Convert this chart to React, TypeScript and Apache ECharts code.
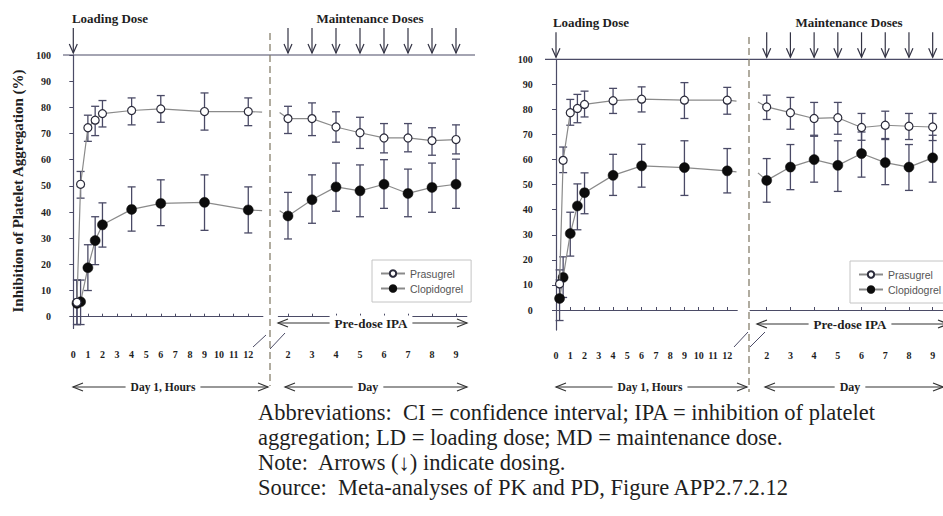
import React, { useEffect, useRef } from "react";
import * as echarts from "echarts";

// ---------- data ----------
const HOURS = [0.25, 0.5, 1, 1.5, 2, 4, 6, 9, 12];
const DAYS = [2, 3, 4, 5, 6, 7, 8, 9];
const HOUR_TICKS = [0, 1, 2, 3, 4, 5, 6, 7, 8, 9, 10, 11, 12];
const DAY_TICKS = [2, 3, 4, 5, 6, 7, 8, 9];
const Y_TICKS = [0, 10, 20, 30, 40, 50, 60, 70, 80, 90, 100];
const LOADING_DOSE_HOURS = [0];
const MAINTENANCE_DOSE_DAYS = [2, 3, 4, 5, 6, 7, 8, 9];

// Left panel
const L_PRAS_H = [5.5, 50.6, 72.2, 75.1, 77.6, 78.8, 79.4, 78.4, 78.4];
const L_PRAS_H_LO = [-3, 45.3, 67, 69.2, 72.5, 73.3, 74.3, 71.3, 73];
const L_PRAS_H_HI = [14, 55.5, 77, 80.4, 82.6, 83.6, 84.5, 85.5, 83.6];
const L_CLOP_H = [5.1, 5.7, 18.7, 29.1, 35.1, 41, 43.3, 43.7, 40.8];
const L_CLOP_H_LO = [-3, -3, 10, 19.9, 26.6, 32.7, 34.8, 33, 32];
const L_CLOP_H_HI = [14, 14, 27.5, 38.2, 43.5, 49.6, 52.3, 54.2, 49.6];
const L_PRAS_D = [75.7, 75.7, 72.5, 70.3, 68.3, 68.3, 67.3, 67.7];
const L_PRAS_D_LO = [70, 69.2, 66.7, 64.3, 62.6, 63, 61.7, 62.2];
const L_PRAS_D_HI = [80.4, 81.7, 78.3, 76.2, 73.8, 73.8, 72.2, 73.3];
const L_CLOP_D = [38.5, 44.7, 49.6, 48.1, 50.6, 47.1, 49.4, 50.6];
const L_CLOP_D_LO = [29.7, 35.7, 40.3, 38.2, 41.4, 38.2, 39.9, 41.4];
const L_CLOP_D_HI = [47.5, 54.2, 58.7, 58, 60, 56.4, 58.7, 60.2];
// line ends at the axis break: [x, prasugrel, clopidogrel]
const L_TAIL_H = [12.95, 78.2, 40.5];
const L_HEAD_D = [1.65, 78, 40.5];

// Right panel
const R_PRAS_H = [10.4, 59.7, 78.7, 80.4, 82, 83.5, 84.1, 83.7, 83.7];
const R_PRAS_H_LO = [5, 54.8, 73.7, 74.7, 77, 78.4, 79, 76.4, 78.1];
const R_PRAS_H_HI = [16, 65, 84, 86, 87.3, 88.4, 89, 90.7, 88.8];
const R_CLOP_H = [4.6, 13, 30.5, 41.5, 46.8, 53.7, 57.5, 56.8, 55.5];
const R_CLOP_H_LO = [-4.2, 5, 21.5, 32, 38.4, 45.7, 49, 45.7, 46.7];
const R_CLOP_H_HI = [12, 21.2, 39, 50.3, 54.7, 62.1, 66.1, 67.5, 64.4];
const R_PRAS_D = [81, 78.7, 76.4, 76.7, 72.8, 73.7, 73.3, 73];
const R_PRAS_D_LO = [76, 72.1, 69.7, 70.1, 67.7, 68.4, 68, 67.6];
const R_PRAS_D_HI = [85.7, 84.8, 82.8, 82.8, 78.4, 79.3, 78.4, 78.4];
const R_CLOP_D = [51.7, 57, 60, 57.7, 62.4, 58.8, 57, 60.7];
const R_CLOP_D_LO = [43, 48, 51, 47.3, 53, 50, 47.7, 51];
const R_CLOP_D_HI = [60.4, 66, 69.3, 67.5, 71, 68, 66, 69.7];
const R_TAIL_H = [12.65, 83.3, 55.1];
const R_HEAD_D = [1.63, 83, 54.7];

const NOTES = [
  "Abbreviations:  CI = confidence interval; IPA = inhibition of platelet",
  "aggregation; LD = loading dose; MD = maintenance dose.",
  "Note:  Arrows (\u2193) indicate dosing.",
  "Source:  Meta-analyses of PK and PD, Figure APP2.7.2.12",
];

// ---------- style / layout ----------
const SERIF = "'Liberation Serif', 'Times New Roman', serif";
const SANS = "'Liberation Sans', Arial, sans-serif";
const AXIS = "#4b4b66";
const TEXT = "#1e1e1e";
const LINE = "#8a8a8a";

type Panel = {
  yAxisX: number; y0: number; y100: number; yMin: number; xAxisY: number;
  h0: number; pxH: number; hMax: number;
  d2: number; pxD: number; dMin: number; dMax: number;
};

const PANELS: Panel[] = [
  { yAxisX: 60, y0: 316.7, y100: 55, yMin: -4.5, xAxisY: 339,
    h0: 73.3, pxH: 14.58, hMax: 13, d2: 288, pxD: 24, dMin: 1.6, dMax: 9.45 },
  { yAxisX: 541.7, y0: 310, y100: 59.3, yMin: -8, xAxisY: 340,
    h0: 556, pxH: 14.27, hMax: 12.7, d2: 766.7, pxD: 23.71, dMin: 1.3, dMax: 9.43 },
];

function errRender(params: any, api: any) {
  const x = api.value(0);
  const lo = api.coord([x, api.value(1)]);
  const hi = api.coord([x, api.value(2)]);
  const w = 4;
  const st = { stroke: "#4a4a66", lineWidth: 1.3 };
  return {
    type: "group",
    children: [
      { type: "line", shape: { x1: lo[0], y1: lo[1], x2: hi[0], y2: hi[1] }, style: st },
      { type: "line", shape: { x1: lo[0] - w, y1: lo[1], x2: lo[0] + w, y2: lo[1] }, style: st },
      { type: "line", shape: { x1: hi[0] - w, y1: hi[1], x2: hi[0] + w, y2: hi[1] }, style: st },
    ],
  };
}

function arrowRender(params: any, api: any) {
  const p = api.coord([api.value(0), 100]);
  const x = p[0];
  const top = p[1] - 27;
  const bot = p[1] - 2;
  const st = { stroke: "#333344", lineWidth: 1.2, fill: "none" };
  return {
    type: "group",
    children: [
      { type: "line", shape: { x1: x, y1: top, x2: x, y2: bot }, style: st },
      { type: "polyline", shape: { points: [[x - 4, bot - 9], [x, bot], [x + 4, bot - 9]] }, style: st },
    ],
  };
}

function hArrow(x1: number, x2: number, y: number, label: string, cx: number, fs: number) {
  const st = { stroke: "#333", lineWidth: 1.2, fill: "none" };
  return [
    { type: "line", shape: { x1, y1: y, x2, y2: y }, style: st, z: 10 },
    { type: "polyline", shape: { points: [[x1 + 10, y - 4], [x1, y], [x1 + 10, y + 4]] }, style: st, z: 10 },
    { type: "polyline", shape: { points: [[x2 - 10, y - 4], [x2, y], [x2 - 10, y + 4]] }, style: st, z: 10 },
    {
      type: "text", x: cx, y, z: 11,
      style: {
        text: label, fontFamily: SERIF, fontWeight: "bold", fontSize: fs, fill: TEXT,
        align: "center", verticalAlign: "middle", backgroundColor: "#fff", padding: [1, 5],
      },
    },
  ];
}

function textAt(x: number, y: number, text: string, fs: number, extra: any = {}) {
  return {
    type: "text", x, y, z: 11,
    style: { text, fontFamily: SERIF, fontWeight: "bold", fontSize: fs, fill: TEXT, align: "center", verticalAlign: "middle", ...extra },
  };
}

export default function App() {
  const ref = useRef<HTMLDivElement>(null);

  useEffect(() => {
    if (!ref.current) return;
    const chart = echarts.init(ref.current, null, { renderer: "svg" });

    const grids: any[] = [];
    const xAxes: any[] = [];
    const yAxes: any[] = [];
    const series: any[] = [];

    const panelData = [
      {
        ph: L_PRAS_H, phLo: L_PRAS_H_LO, phHi: L_PRAS_H_HI,
        ch: L_CLOP_H, chLo: L_CLOP_H_LO, chHi: L_CLOP_H_HI,
        pd: L_PRAS_D, pdLo: L_PRAS_D_LO, pdHi: L_PRAS_D_HI,
        cd: L_CLOP_D, cdLo: L_CLOP_D_LO, cdHi: L_CLOP_D_HI,
        tail: L_TAIL_H, head: L_HEAD_D,
      },
      {
        ph: R_PRAS_H, phLo: R_PRAS_H_LO, phHi: R_PRAS_H_HI,
        ch: R_CLOP_H, chLo: R_CLOP_H_LO, chHi: R_CLOP_H_HI,
        pd: R_PRAS_D, pdLo: R_PRAS_D_LO, pdHi: R_PRAS_D_HI,
        cd: R_CLOP_D, cdLo: R_CLOP_D_LO, cdHi: R_CLOP_D_HI,
        tail: R_TAIL_H, head: R_HEAD_D,
      },
    ];

    const prasStyle = {
      symbol: "circle", symbolSize: 8,
      itemStyle: { color: "#ffffff", borderColor: "#2a2a3a", borderWidth: 1.2 },
      lineStyle: { color: LINE, width: 1.2 },
    };
    const clopStyle = {
      symbol: "circle", symbolSize: 10,
      itemStyle: { color: "#0c0c0c", borderColor: "#0c0c0c", borderWidth: 0.5 },
      lineStyle: { color: LINE, width: 1.2 },
    };

    PANELS.forEach((P, pi) => {
      const pxU = (P.y0 - P.y100) / 100;
      const top = P.y100;
      const height = (100 - P.yMin) * pxU;
      const gBottom = top + height;
      const xOff = P.xAxisY - gBottom;
      const D = panelData[pi];

      const gH = grids.length;
      grids.push({ left: P.h0, top, width: P.hMax * P.pxH, height, outerBoundsMode: "none", containLabel: false });
      const gD = grids.length;
      grids.push({
        left: P.d2 - (2 - P.dMin) * P.pxD, top, width: (P.dMax - P.dMin) * P.pxD, height,
        outerBoundsMode: "none", containLabel: false,
      });

      const xCommon = {
        type: "value",
        offset: xOff,
        splitLine: { show: false },
        axisLine: { show: true, lineStyle: { color: AXIS, width: 1.2 } },
        axisTick: { show: true, inside: true, length: 3, lineStyle: { color: AXIS } },
        axisLabel: {
          margin: 10, fontFamily: SERIF, fontWeight: "bold", fontSize: 10, color: TEXT,
        },
      };
      xAxes.push({
        ...xCommon, gridIndex: gH, min: 0, max: P.hMax,
        axisTick: { ...xCommon.axisTick, customValues: HOUR_TICKS },
        axisLabel: { ...xCommon.axisLabel, customValues: HOUR_TICKS },
      });
      xAxes.push({
        ...xCommon, gridIndex: gD, min: P.dMin, max: P.dMax,
        axisTick: { ...xCommon.axisTick, customValues: DAY_TICKS },
        axisLabel: { ...xCommon.axisLabel, customValues: DAY_TICKS },
      });

      yAxes.push({
        type: "value", gridIndex: gH, min: P.yMin, max: 100,
        offset: P.h0 - P.yAxisX,
        splitLine: { show: false },
        axisLine: { show: true, lineStyle: { color: AXIS, width: 1.2 } },
        axisTick: { show: true, length: 4, customValues: Y_TICKS, lineStyle: { color: AXIS } },
        axisLabel: {
          customValues: Y_TICKS, margin: 9, fontFamily: SERIF, fontWeight: "bold", fontSize: 10, color: TEXT,
        },
      });
      yAxes.push({ type: "value", gridIndex: gD, min: P.yMin, max: 100, show: false });

      const xiH = xAxes.length - 2, xiD = xAxes.length - 1;
      const yiH = yAxes.length - 2, yiD = yAxes.length - 1;

      const errData = (xs: number[], lo: number[], hi: number[]) => xs.map((x, i) => [x, lo[i], hi[i]]);
      const errSeries = (xi: number, yi: number, data: any[]) => ({
        type: "custom", xAxisIndex: xi, yAxisIndex: yi, renderItem: errRender,
        encode: { x: 0, y: [1, 2] }, data, clip: false, z: 1, silent: true,
      });
      series.push(errSeries(xiH, yiH, errData(HOURS, D.phLo, D.phHi)));
      series.push(errSeries(xiH, yiH, errData(HOURS, D.chLo, D.chHi)));
      series.push(errSeries(xiD, yiD, errData(DAYS, D.pdLo, D.pdHi)));
      series.push(errSeries(xiD, yiD, errData(DAYS, D.cdLo, D.cdHi)));

      const hoursLine = (vals: number[], tailV: number) => [
        ...HOURS.map((h, i) => [h, vals[i]]),
        { value: [D.tail[0], tailV], symbol: "none" },
      ];
      const daysLine = (vals: number[], headV: number) => [
        { value: [D.head[0], headV], symbol: "none" },
        ...DAYS.map((d, i) => [d, vals[i]]),
      ];

      series.push({ name: "Clopidogrel", type: "line", xAxisIndex: xiH, yAxisIndex: yiH, data: hoursLine(D.ch, D.tail[2]), z: 3, clip: false, ...clopStyle });
      series.push({ name: "Prasugrel", type: "line", xAxisIndex: xiH, yAxisIndex: yiH, data: hoursLine(D.ph, D.tail[1]), z: 4, clip: false, ...prasStyle });
      series.push({ name: "Clopidogrel", type: "line", xAxisIndex: xiD, yAxisIndex: yiD, data: daysLine(D.cd, D.head[2]), z: 3, clip: false, ...clopStyle });
      series.push({ name: "Prasugrel", type: "line", xAxisIndex: xiD, yAxisIndex: yiD, data: daysLine(D.pd, D.head[1]), z: 4, clip: false, ...prasStyle });

      series.push({
        type: "custom", xAxisIndex: xiH, yAxisIndex: yiH, renderItem: arrowRender,
        encode: { x: 0 }, data: LOADING_DOSE_HOURS.map((h) => [h]), clip: false, silent: true, z: 5,
      });
      series.push({
        type: "custom", xAxisIndex: xiD, yAxisIndex: yiD, renderItem: arrowRender,
        encode: { x: 0 }, data: MAINTENANCE_DOSE_DAYS.map((d) => [d]), clip: false, silent: true, z: 5,
      });
    });

    const dash = { stroke: "#7c7560", lineWidth: 1.2, lineDash: [7, 4] };
    const solid = { stroke: AXIS, lineWidth: 1.2 };
    const slash = { stroke: "#4b4b66", lineWidth: 1 };

    const graphic: any[] = [
      { type: "line", shape: { x1: 63, y1: 55, x2: 475, y2: 55 }, style: solid },
      { type: "line", shape: { x1: 545, y1: 59.3, x2: 943, y2: 59.3 }, style: solid },
      { type: "line", shape: { x1: 270, y1: 33, x2: 270, y2: 386 }, style: dash },
      { type: "line", shape: { x1: 749, y1: 37, x2: 749, y2: 392 }, style: dash },
      { type: "line", shape: { x1: 253, y1: 347, x2: 266, y2: 335 }, style: slash },
      { type: "line", shape: { x1: 270, y1: 349, x2: 285, y2: 333 }, style: slash },
      { type: "line", shape: { x1: 734, y1: 347, x2: 748, y2: 332 }, style: slash },
      { type: "line", shape: { x1: 750, y1: 347, x2: 765, y2: 332 }, style: slash },
      textAt(110, 18, "Loading Dose", 13),
      textAt(370, 18, "Maintenance Doses", 13),
      textAt(591, 22.7, "Loading Dose", 13),
      textAt(849, 22.7, "Maintenance Doses", 13),
      {
        type: "text", x: 18, y: 191, rotation: Math.PI / 2, z: 11,
        style: {
          text: "Inhibition of Platelet Aggregation (%)", fontFamily: SERIF, fontWeight: "bold",
          fontSize: 15, fill: TEXT, align: "center", verticalAlign: "middle",
        },
      },
      ...hArrow(278, 467, 323, "Pre-dose IPA", 371, 13),
      ...hArrow(757, 948, 324, "Pre-dose IPA", 850, 13),
      ...hArrow(73, 268, 387, "Day 1, Hours", 163, 11.5),
      ...hArrow(285, 467, 387, "Day", 368, 12),
      ...hArrow(556, 747, 387, "Day 1, Hours", 650, 11.5),
      ...hArrow(765, 943, 387, "Day", 850, 12),
      ...NOTES.map((t, i) => ({
        type: "text", x: 258, y: 412 + i * 25.3, z: 11,
        style: { text: t, fontFamily: SERIF, fontSize: 22.5, fill: TEXT, align: "left", verticalAlign: "middle" },
      })),
    ];

    const legendCommon = {
      data: ["Prasugrel", "Clopidogrel"],
      orient: "vertical",
      itemGap: 4,
      itemWidth: 24,
      itemHeight: 8,
      padding: [8, 8, 8, 8],
      borderColor: "#c4c4c4",
      borderWidth: 1,
      backgroundColor: "#fff",
      selectedMode: false,
      textStyle: { fontFamily: SANS, fontSize: 10.5, color: "#555" },
      z: 20,
    };

    chart.setOption({
      animation: false,
      backgroundColor: "#ffffff",
      grid: grids,
      xAxis: xAxes,
      yAxis: yAxes,
      series,
      legend: [
        { ...legendCommon, left: 372, top: 260 },
        { ...legendCommon, left: 850, top: 261 },
      ],
      graphic,
    });

    return () => chart.dispose();
  }, []);

  return (
    <div
      ref={ref}
      style={{ position: "absolute", left: 0, top: 0, width: 943, height: 516 }}
    />
  );
}
